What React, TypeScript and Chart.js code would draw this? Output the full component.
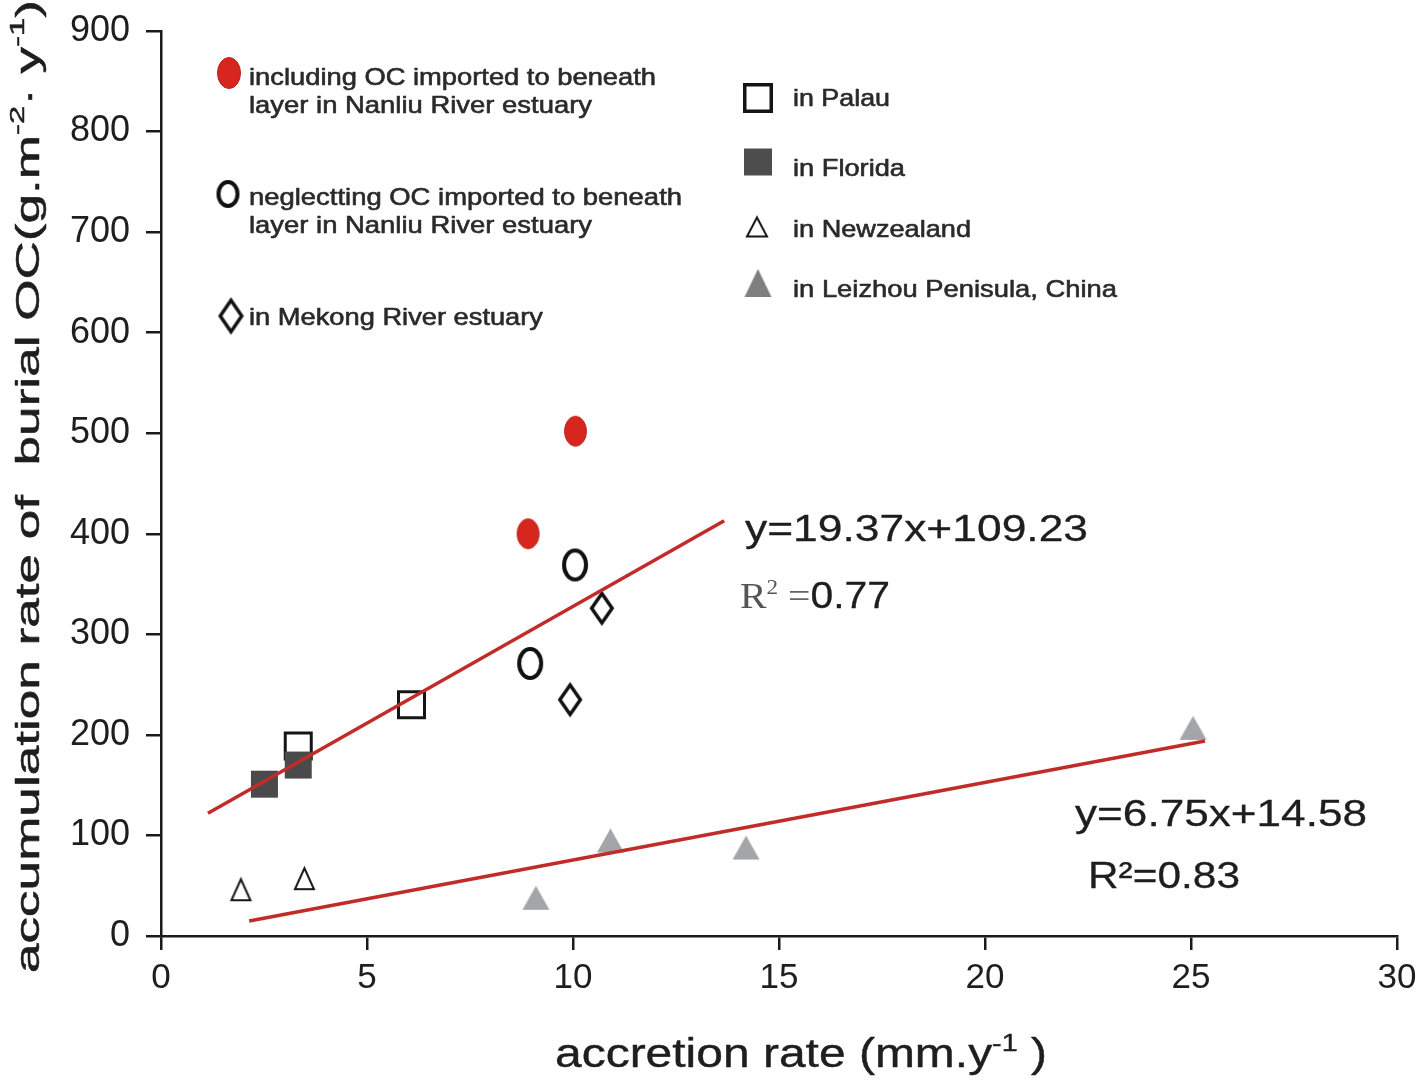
import React, { useEffect, useRef } from "react";
import { Chart, registerables } from "chart.js";

Chart.register(...registerables);

// ---------- data ----------
const includingX = [8.91, 10.06];
const includingY = [400, 502];
const neglectX = [8.96, 10.05];
const neglectY = [271, 369];
const mekongX = [9.93, 10.7];
const mekongY = [235, 326];
const palauX = [3.33, 6.08];
const palauY = [189, 230];
const floridaX = [2.51, 3.33];
const floridaY = [151, 170];
const nzX = [1.94, 3.48];
const nzY = [46, 57];
const leizhouX = [9.1, 10.91, 14.2, 25.05];
const leizhouY = [38, 95, 88, 207];
const fitUpperX = [1.14, 13.67];
const fitUpperY = [122, 413];
const fitLowerX = [2.14, 25.34];
const fitLowerY = [15, 194];

const xTicks = [0, 5, 10, 15, 20, 25, 30];
const yTicks = [0, 100, 200, 300, 400, 500, 600, 700, 800, 900];

const legendLeft = [
  ["including OC imported to beneath", "layer in Nanliu River estuary"],
  ["neglectting OC imported to beneath", "layer in Nanliu River estuary"],
  ["in Mekong River estuary"],
];
const legendRight = ["in Palau", "in Florida", "in Newzealand", "in Leizhou Penisula, China"];
const eqUpper = "y=19.37x+109.23";
const r2Upper = "0.77";
const eqLower = "y=6.75x+14.58";
const r2Lower = "R\u00B2=0.83";

const pts = (xs: number[], ys: number[]) => xs.map((x, i) => ({ x, y: ys[i] }));

const SANS = "'Liberation Sans', Arial, sans-serif";
const SERIF = "'Liberation Serif', 'Times New Roman', serif";

function makeMarker(kind: string, w: number, h: number, lw: number, fill: string | null, stroke: string | null) {
  const c = document.createElement("canvas");
  const pad = 2;
  c.width = Math.ceil(w + pad * 2);
  c.height = Math.ceil(h + pad * 2);
  const g = c.getContext("2d")!;
  const cx = c.width / 2;
  const cy = c.height / 2;
  const rx = (w - lw) / 2;
  const ry = (h - lw) / 2;
  g.beginPath();
  if (kind === "ellipse") g.ellipse(cx, cy, rx, ry, 0, 0, Math.PI * 2);
  else if (kind === "diamond") {
    g.moveTo(cx, cy - ry);
    g.lineTo(cx + rx, cy);
    g.lineTo(cx, cy + ry);
    g.lineTo(cx - rx, cy);
    g.closePath();
  } else if (kind === "square") g.rect(cx - rx, cy - ry, rx * 2, ry * 2);
  else if (kind === "triangle") {
    g.moveTo(cx, cy - ry);
    g.lineTo(cx + rx, cy + ry);
    g.lineTo(cx - rx, cy + ry);
    g.closePath();
  }
  if (fill) {
    g.fillStyle = fill;
    g.fill();
  }
  if (stroke && lw > 0) {
    g.lineWidth = lw;
    g.strokeStyle = stroke;
    g.lineJoin = "miter";
    g.stroke();
  }
  return c;
}

type Seg = { t: string; font: string; color?: string; dy?: number; bold?: number };

function drawSegs(
  ctx: CanvasRenderingContext2D,
  segs: Seg[],
  x: number,
  y: number,
  width: number | null,
  rot = 0,
  thick = 0
) {
  ctx.save();
  let total = 0;
  const ws = segs.map((s) => {
    ctx.font = s.font;
    const w = ctx.measureText(s.t).width;
    total += w;
    return w;
  });
  const sx = width ? width / total : 1;
  ctx.translate(x, y);
  if (rot) ctx.rotate(rot);
  ctx.scale(sx, 1);
  ctx.textBaseline = "alphabetic";
  ctx.textAlign = "left";
  let cx = 0;
  segs.forEach((s, i) => {
    ctx.font = s.font;
    ctx.fillStyle = s.color || "#222";
    ctx.fillText(s.t, cx, s.dy || 0);
    const th = s.bold !== undefined ? s.bold : thick;
    if (th > 0) {
      ctx.strokeStyle = s.color || "#222";
      ctx.lineWidth = th;
      ctx.lineJoin = "round";
      ctx.strokeText(s.t, cx, s.dy || 0);
    }
    cx += ws[i];
  });
  ctx.restore();
}

export default function App() {
  const ref = useRef<HTMLCanvasElement | null>(null);

  useEffect(() => {
    const redEllipse = makeMarker("ellipse", 23, 31, 1, "#d7261e", "#b82520");
    const openEllipse = makeMarker("ellipse", 26, 33, 4, null, "#111");
    const diamond = makeMarker("diamond", 24, 33, 3.5, null, "#111");
    const openSquare = makeMarker("square", 29, 29, 3, null, "#151515");
    const filledSquare = makeMarker("square", 27, 27, 0, "#4a4a4a", null);
    const openTriangle = makeMarker("triangle", 21, 23, 2, null, "#151515");
    const grayTriangle = makeMarker("triangle", 27, 24, 0, "#a4a5a9", null);
    const legRedEllipse = makeMarker("ellipse", 24, 32, 1, "#d7261e", "#b82520");
    const legOpenEllipse = makeMarker("ellipse", 23, 28, 4, null, "#111");
    const legDiamond = makeMarker("diamond", 25, 35, 3.5, null, "#111");
    const legOpenSquare = makeMarker("square", 30, 30, 3.5, null, "#151515");
    const legFilledSquare = makeMarker("square", 28, 27, 0, "#4d4d4d", null);
    const legOpenTriangle = makeMarker("triangle", 22, 21, 2, null, "#151515");
    const legGrayTriangle = makeMarker("triangle", 27, 28, 0, "#7f7f7f", null);

    const textPlugin = {
      id: "texts",
      afterDraw(chart: any) {
        const ctx: CanvasRenderingContext2D = chart.ctx;
        const mk = (img: HTMLCanvasElement, cx: number, cy: number) =>
          ctx.drawImage(img, cx - img.width / 2, cy - img.height / 2);
        mk(legRedEllipse, 229, 73);
        mk(legOpenEllipse, 228, 194);
        mk(legDiamond, 231, 316);
        mk(legOpenSquare, 758, 98);
        mk(legFilledSquare, 758, 162);
        mk(legOpenTriangle, 757, 227);
        mk(legGrayTriangle, 758, 283);

        const lf = `24px ${SANS}`;
        const lc = "#2a2a2a";
        const L = (t: string, x: number, y: number, w: number) =>
          drawSegs(ctx, [{ t, font: lf, color: lc }], x, y, w, 0, 0.6);
        L(legendLeft[0][0], 249, 85, 407);
        L(legendLeft[0][1], 249, 113, 343);
        L(legendLeft[1][0], 249, 205, 433);
        L(legendLeft[1][1], 249, 233, 343);
        L(legendLeft[2][0], 249, 325, 294);
        L(legendRight[0], 793, 106, 97);
        L(legendRight[1], 793, 176, 112);
        L(legendRight[2], 793, 237, 178);
        L(legendRight[3], 793, 297, 324);

        // equations
        const ef = `37px ${SANS}`;
        drawSegs(ctx, [{ t: eqUpper, font: ef, color: "#1e1e1e" }], 745, 541, 343, 0, 0.3);
        drawSegs(
          ctx,
          [
            { t: "R", font: `36px ${SERIF}`, color: "#555", bold: 0 },
            { t: "2", font: `21px ${SERIF}`, color: "#555", dy: -14, bold: 0 },
            { t: " =", font: `36px ${SERIF}`, color: "#666", bold: 0 },
            { t: r2Upper, font: ef, color: "#1e1e1e" },
          ],
          740,
          608,
          150,
          0,
          0.3
        );
        drawSegs(ctx, [{ t: eqLower, font: ef, color: "#1e1e1e" }], 1075, 826, 292, 0, 0.3);
        drawSegs(ctx, [{ t: r2Lower, font: ef, color: "#1e1e1e" }], 1088, 888, 152, 0, 0.3);

        // axis titles
        const tf = `40px ${SANS}`;
        const sf = `24px ${SANS}`;
        drawSegs(
          ctx,
          [
            { t: "accretion rate (mm.y", font: tf, color: "#1e1e1e" },
            { t: "-1", font: sf, color: "#1e1e1e", dy: -16 },
            { t: " )", font: tf, color: "#1e1e1e" },
          ],
          555,
          1067,
          492,
          0,
          0.4
        );
        const yf = `34px ${SANS}`;
        const ysf = `21px ${SANS}`;
        drawSegs(
          ctx,
          [
            { t: "accumulation rate of  burial OC(g.m", font: yf, color: "#1e1e1e" },
            { t: "-2", font: ysf, color: "#1e1e1e", dy: -15 },
            { t: "\u00B7 y", font: yf, color: "#1e1e1e" },
            { t: "-1", font: ysf, color: "#1e1e1e", dy: -15 },
            { t: ")", font: yf, color: "#1e1e1e" },
          ],
          39,
          973,
          973,
          -Math.PI / 2,
          0.5
        );
      },
    };

    const chart = new Chart(ref.current!, {
      type: "scatter",
      data: {
        datasets: [
          {
            label: "fit upper",
            data: pts(fitUpperX, fitUpperY),
            showLine: true,
            borderColor: "#c12c28",
            borderWidth: 3.5,
            pointRadius: 0,
            order: 0,
          },
          {
            label: "fit lower",
            data: pts(fitLowerX, fitLowerY),
            showLine: true,
            borderColor: "#c12c28",
            borderWidth: 3.5,
            pointRadius: 0,
            order: 0,
          },
          { label: "including", data: pts(includingX, includingY), pointStyle: redEllipse, pointRadius: 5, order: 2 },
          { label: "neglecting", data: pts(neglectX, neglectY), pointStyle: openEllipse, pointRadius: 5, order: 2 },
          { label: "Mekong", data: pts(mekongX, mekongY), pointStyle: diamond, pointRadius: 5, order: 2 },
          { label: "Palau", data: pts(palauX, palauY), pointStyle: openSquare, pointRadius: 5, order: 3 },
          { label: "Florida", data: pts(floridaX, floridaY), pointStyle: filledSquare, pointRadius: 5, order: 2 },
          { label: "Newzealand", data: pts(nzX, nzY), pointStyle: openTriangle, pointRadius: 5, order: 2 },
          { label: "Leizhou", data: pts(leizhouX, leizhouY), pointStyle: grayTriangle, pointRadius: 5, order: 2 },
        ] as any,
      },
      options: {
        animation: false,
        responsive: false,
        devicePixelRatio: 1,
        events: [],
        layout: { padding: { top: 31, right: 21, left: 0, bottom: 0 } },
        plugins: { legend: { display: false }, tooltip: { enabled: false } },
        scales: {
          x: {
            type: "linear",
            min: 0,
            max: 30,
            afterBuildTicks: (s: any) => {
              s.ticks = xTicks.map((v) => ({ value: v }));
            },
            afterFit: (s: any) => {
              s.height = 145;
              s.paddingLeft = 0;
              s.paddingRight = 0;
            },
            border: { display: true, color: "#1a1a1a", width: 2.5 },
            grid: { drawOnChartArea: false, drawTicks: true, tickLength: 14, color: "#1a1a1a", lineWidth: 2.5 },
            ticks: { font: { size: 35, family: SANS }, color: "#1e1e1e", padding: 7, maxRotation: 0, autoSkip: false },
          },
          y: {
            type: "linear",
            min: 0,
            max: 900,
            afterBuildTicks: (s: any) => {
              s.ticks = yTicks.map((v) => ({ value: v }));
            },
            afterFit: (s: any) => {
              s.width = 161;
              s.paddingTop = 0;
              s.paddingBottom = 0;
            },
            border: { display: true, color: "#1a1a1a", width: 2.5 },
            grid: { drawOnChartArea: false, drawTicks: true, tickLength: 15, color: "#1a1a1a", lineWidth: 2.5 },
            ticks: { font: { size: 36, family: SANS }, color: "#1e1e1e", padding: 16, autoSkip: false },
          },
        },
      } as any,
      plugins: [textPlugin],
    });
    return () => chart.destroy();
  }, []);

  return (
    <div style={{ position: "absolute", left: 0, top: 0, width: 1418, height: 1081, background: "#fff" }}>
      <canvas ref={ref} width={1418} height={1081} style={{ display: "block", width: 1418, height: 1081 }} />
    </div>
  );
}
